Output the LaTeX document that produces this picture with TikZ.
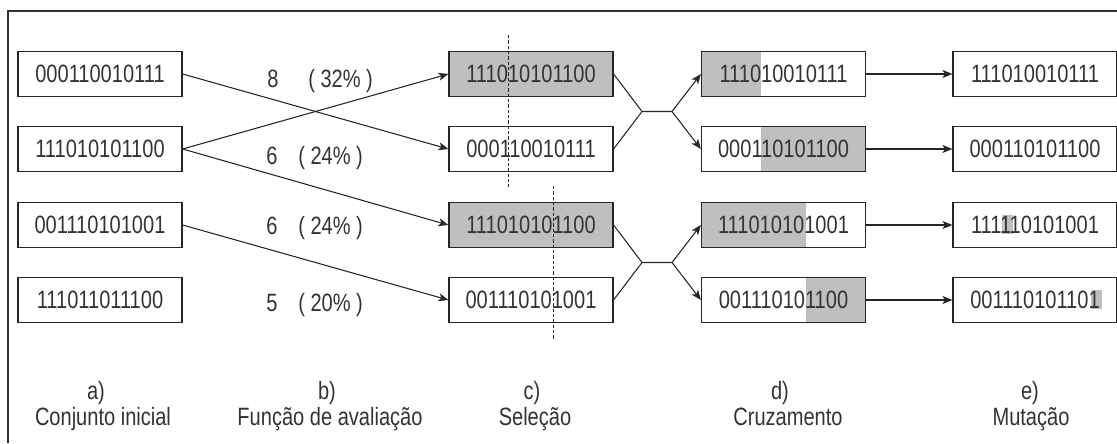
\documentclass[tikz,border=0pt]{standalone}
\usepackage{fontspec}
\setmainfont{Liberation Sans}[FakeStretch=0.8]
\usetikzlibrary{arrows.meta,calc,backgrounds}
\newlength\dw
\begin{document}
\settowidth{\dw}{\fontsize{18.8}{21}\selectfont 0}%
\begin{tikzpicture}[x=0.75pt,y=-0.75pt,
  font=\fontsize{18.8}{21}\selectfont,
  every node/.style={text=black!80},
  bitbox/.style={draw=black!85, line width=0.9pt, minimum width=123pt, minimum height=33.75pt, inner sep=0pt},
  grayb/.style={bitbox, fill=black!25},
  link/.style={draw=black!85, line width=0.8pt},
  arr/.style={link, -{Stealth[length=7.5pt,width=6pt,inset=2pt]}},
  cutline/.style={draw=black!85, line width=0.6pt, dash pattern=on 2.5pt off 1.5pt},
  shade/.style={fill=black!25},
  lbl/.style={inner sep=0pt},
  frame/.style={draw=black!80, line width=0.9pt}
]
\useasboundingbox (0,0) rectangle (1117,443);
\draw[frame] (8,443) -- (8,11) -- (1117,11);

% a) initial set
\node[bitbox] (a1) at (100,74) {000110010111};
\node[bitbox] (a2) at (100,149) {111010101100};
\node[bitbox] (a3) at (100,225) {001110101001};
\node[bitbox] (a4) at (100,300) {111011011100};

% c) selection
\node[grayb] (c1) at (531,74) {111010101100};
\node[bitbox] (c2) at (531,149) {000110010111};
\node[grayb] (c3) at (531,225) {111010101100};
\node[bitbox] (c4) at (531,300) {001110101001};

% d) crossover
\node[bitbox] (d1) at (783.5,74) {111010010111};
\node[bitbox] (d2) at (783.5,149) {000110101100};
\node[bitbox] (d3) at (783.5,225) {111010101001};
\node[bitbox] (d4) at (783.5,300) {001110101100};

% e) mutation
\node[bitbox] (e1) at (1035,74) {111010010111};
\node[bitbox] (e2) at (1035,149) {000110101100};
\node[bitbox] (e3) at (1035,225) {111110101001};
\node[bitbox] (e4) at (1035,300) {001110101101};

\begin{scope}[on background layer]
  \fill[shade] (d1.north west) rectangle ($(d1.south)+(-2*\dw,0pt)$);
  \fill[shade] ($(d2.north)+(-2*\dw,0pt)$) rectangle (d2.south east);
  \fill[shade] (d3.north west) rectangle ($(d3.south)+(2*\dw,0pt)$);
  \fill[shade] ($(d4.north)+(2*\dw,0pt)$) rectangle (d4.south east);
  \fill[shade] ($(e3.center)+(-3*\dw,7.5pt)$) rectangle ($(e3.center)+(-2*\dw,-6.75pt)$);
  \fill[shade] ($(e4.center)+(5*\dw,7.5pt)$) rectangle ($(e4.center)+(6*\dw,-6.75pt)$);
\end{scope}

% cut points
\coordinate (s1) at ($(c1.center)+(-2*\dw,0pt)$);
\coordinate (s2) at ($(c3.center)+(2*\dw,0pt)$);
\draw[cutline] (s1 |- 0,35) -- (s1 |- 0,187);
\draw[cutline] (s2 |- 0,186) -- (s2 |- 0,340);

% fitness labels
\node[lbl, anchor=base] (f1) at (273,87) {8};
\node[lbl, anchor=base west] (p1) at (308,87) {( 32\% )};
\node[lbl, anchor=base] (f2) at (272,164) {6};
\node[lbl, anchor=base west] (p2) at (298,164) {( 24\% )};
\node[lbl, anchor=base] (f3) at (272,234) {6};
\node[lbl, anchor=base west] (p3) at (298,234) {( 24\% )};
\node[lbl, anchor=base] (f4) at (272,311) {5};
\node[lbl, anchor=base west] (p4) at (298,311) {( 20\% )};

% selection arrows
\draw[arr] (a1.east) -- (c2.west);
\draw[arr] (a2.east) -- (c1.west);
\draw[arr] (a2.east) -- (c3.west);
\draw[arr] (a3.east) -- (c4.west);

% crossover junctions
\coordinate (j1) at (642,111.5);
\coordinate (k1) at (672,111.5);
\coordinate (j2) at (642,262.5);
\coordinate (k2) at (672,262.5);
\draw[link] (c1.east) -- (j1) -- (k1);
\draw[link] (c2.east) -- (j1);
\draw[arr] (k1) -- (d1.west);
\draw[arr] (k1) -- (d2.west);
\draw[link] (c3.east) -- (j2) -- (k2);
\draw[link] (c4.east) -- (j2);
\draw[arr] (k2) -- (d3.west);
\draw[arr] (k2) -- (d4.west);

% mutation arrows
\draw[arr] (d1.east) -- (e1.west);
\draw[arr] (d2.east) -- (e2.west);
\draw[arr] (d3.east) -- (e3.west);
\draw[arr] (d4.east) -- (e4.west);

% captions
\node[lbl, anchor=base] (ta) at (96,399) {a)};
\node[lbl, anchor=base] (na) at (103,425) {Conjunto inicial};
\node[lbl, anchor=base] (tb) at (327,399) {b)};
\node[lbl, anchor=base] (nb) at (330,425) {Função de avaliação};
\node[lbl, anchor=base] (tc) at (532,399) {c)};
\node[lbl, anchor=base] (nc) at (535,425) {Seleção};
\node[lbl, anchor=base] (td) at (780,399) {d)};
\node[lbl, anchor=base] (nd) at (788,425) {Cruzamento};
\node[lbl, anchor=base] (te) at (1030,399) {e)};
\node[lbl, anchor=base] (ne) at (1031,425) {Mutação};
\end{tikzpicture}
\end{document}
